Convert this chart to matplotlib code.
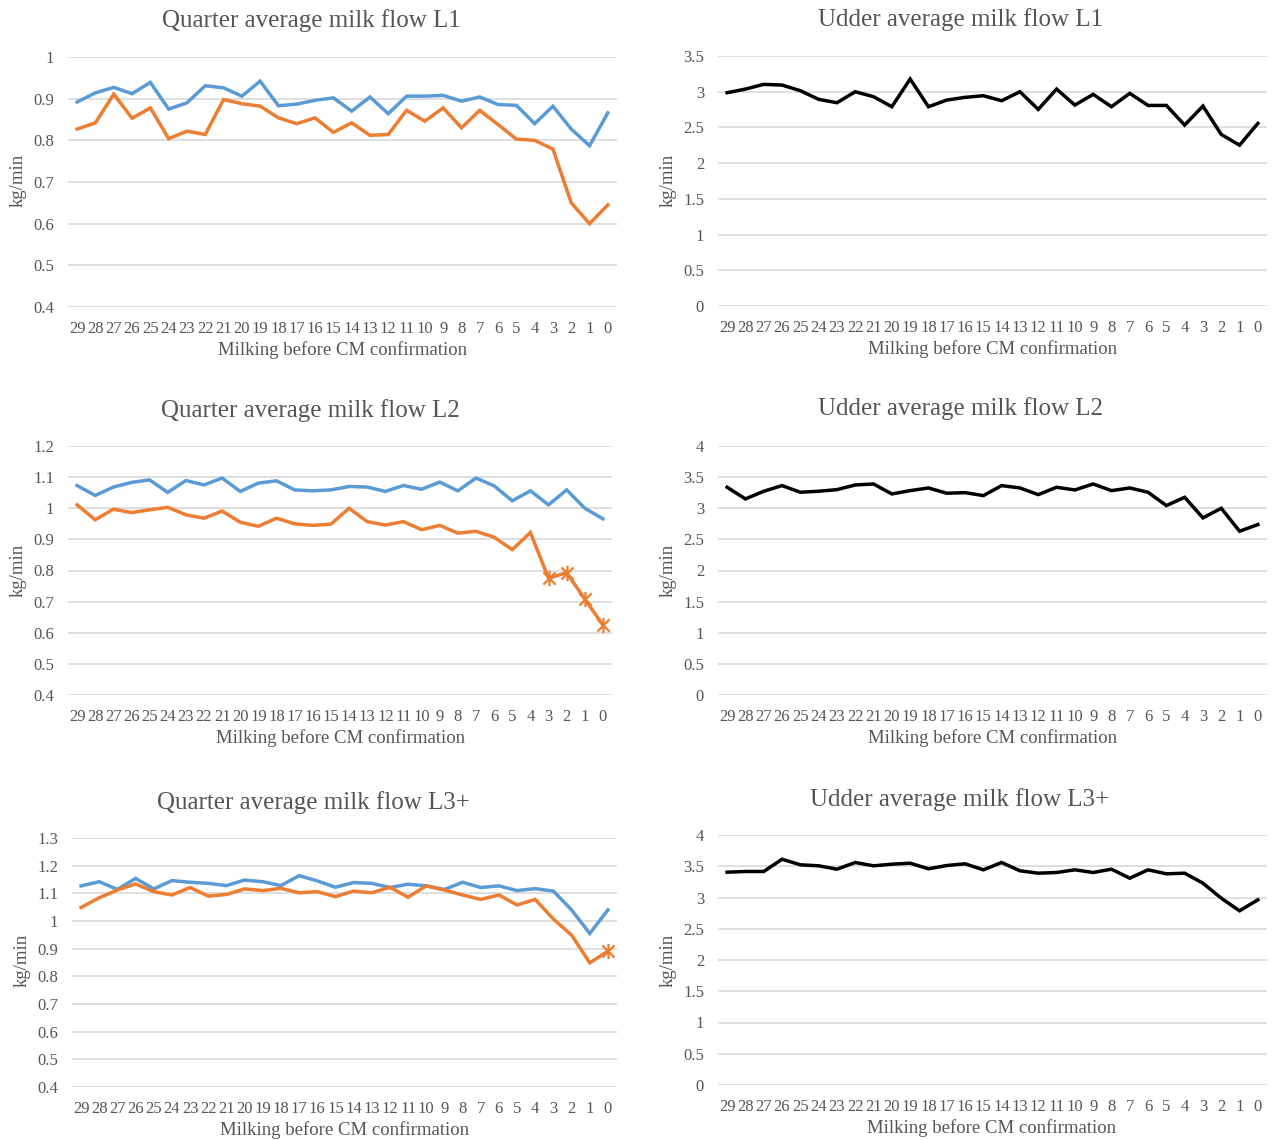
import matplotlib
matplotlib.use("Agg")
import matplotlib.pyplot as plt
from matplotlib.path import Path
import numpy as np

# ---------------- data ----------------
milking_labels = [str(v) for v in range(29, -1, -1)]

q_l1_blue = [0.892, 0.914, 0.927, 0.912, 0.939, 0.875, 0.890, 0.931, 0.926, 0.906,
             0.942, 0.883, 0.887, 0.896, 0.902, 0.870, 0.904, 0.864, 0.906, 0.906,
             0.908, 0.894, 0.904, 0.886, 0.884, 0.840, 0.882, 0.827, 0.787, 0.866]
q_l1_orange = [0.827, 0.842, 0.911, 0.853, 0.878, 0.804, 0.822, 0.814, 0.898, 0.888,
               0.882, 0.854, 0.840, 0.854, 0.819, 0.842, 0.812, 0.814, 0.872, 0.846,
               0.878, 0.830, 0.872, 0.838, 0.803, 0.800, 0.779, 0.650, 0.600, 0.645]
u_l1 = [2.986, 3.037, 3.103, 3.093, 3.014, 2.893, 2.846, 3.000, 2.930, 2.790,
        3.178, 2.790, 2.883, 2.921, 2.944, 2.874, 3.000, 2.752, 3.037, 2.813,
        2.963, 2.790, 2.977, 2.808, 2.808, 2.533, 2.799, 2.402, 2.252, 2.556]

q_l2_blue = [1.073, 1.041, 1.068, 1.083, 1.091, 1.051, 1.089, 1.075, 1.097, 1.054,
             1.081, 1.088, 1.059, 1.056, 1.059, 1.070, 1.068, 1.054, 1.073, 1.061,
             1.084, 1.056, 1.097, 1.072, 1.024, 1.056, 1.011, 1.059, 1.000, 0.966]
q_l2_orange = [1.011, 0.963, 0.997, 0.986, 0.995, 1.003, 0.979, 0.968, 0.991, 0.955,
               0.942, 0.968, 0.950, 0.945, 0.949, 1.000, 0.957, 0.946, 0.957, 0.931,
               0.945, 0.920, 0.926, 0.907, 0.867, 0.922, 0.775, 0.793, 0.708, 0.625]
q_l2_marked = [26, 27, 28, 29]
u_l2 = [3.337, 3.150, 3.273, 3.364, 3.257, 3.273, 3.299, 3.374, 3.390, 3.230,
        3.283, 3.326, 3.241, 3.251, 3.203, 3.364, 3.326, 3.219, 3.337, 3.294,
        3.390, 3.283, 3.326, 3.257, 3.043, 3.176, 2.845, 3.000, 2.631, 2.738]

q_l3_blue = [1.127, 1.142, 1.114, 1.154, 1.116, 1.146, 1.140, 1.136, 1.128, 1.148,
             1.142, 1.128, 1.164, 1.145, 1.122, 1.139, 1.136, 1.121, 1.133, 1.127,
             1.114, 1.140, 1.121, 1.127, 1.110, 1.117, 1.108, 1.040, 0.955, 1.040]
q_l3_orange = [1.049, 1.084, 1.112, 1.134, 1.106, 1.094, 1.121, 1.090, 1.096, 1.116,
               1.110, 1.118, 1.102, 1.106, 1.088, 1.108, 1.102, 1.122, 1.086, 1.127,
               1.112, 1.094, 1.078, 1.094, 1.058, 1.078, 1.007, 0.949, 0.849, 0.891]
q_l3_marked = [29]
u_l3 = [3.405, 3.416, 3.416, 3.613, 3.523, 3.507, 3.453, 3.560, 3.507, 3.533,
        3.549, 3.459, 3.512, 3.539, 3.443, 3.560, 3.427, 3.389, 3.400, 3.443,
        3.400, 3.453, 3.309, 3.443, 3.379, 3.389, 3.229, 2.989, 2.787, 2.963]

titles = ["Quarter average milk flow L1", "Udder average milk flow L1",
          "Quarter average milk flow L2", "Udder average milk flow L2",
          "Quarter average milk flow L3+", "Udder average milk flow L3+"]
x_title = "Milking before CM confirmation"
y_title = "kg/min"

# ---------------- style ----------------
W, H = 1272, 1140
fig = plt.figure(figsize=(W / 100, H / 100), dpi=100)
plt.rcParams['font.family'] = ['Liberation Serif', 'DejaVu Serif']
TXT = '#555555'
GRID = '#D9D9D9'
BLUE = '#5B9BD5'
ORANGE = '#ED7D31'

star = Path([(-1, -1), (1, 1), (-1, 1), (1, -1), (0, -1.25), (0, 1.25)],
            [Path.MOVETO, Path.LINETO, Path.MOVETO, Path.LINETO, Path.MOVETO, Path.LINETO])


def px_axes(l, t, r, b):
    return fig.add_axes([l / W, 1 - b / H, (r - l) / W, (b - t) / H])


def style(ax, ylim, yticks, yfmt):
    ax.set_xlim(-0.5, 29.5)
    ax.set_ylim(*ylim)
    ax.set_yticks(yticks)
    ax.set_yticklabels([yfmt(v) for v in yticks])
    ax.set_xticks(range(len(milking_labels)))
    ax.set_xticklabels(milking_labels)
    for s in ax.spines.values():
        s.set_visible(False)
    ax.tick_params(axis='both', length=0, colors=TXT, labelsize=12)
    ax.tick_params(axis='y', pad=10)
    ax.tick_params(axis='x', pad=10)
    ax.grid(axis='y', color=GRID, lw=1.2)
    ax.set_axisbelow(True)


def fmt(v):
    s = ('%.1f' % v)
    if s.endswith('.0'):
        s = s[:-2]
    return s


x = np.arange(len(milking_labels))
lw = 2.5

panels = [
    # (rect, ylim, yticks, series, title pos, xlabel pos, ylabel pos)
    ((68, 57, 617, 307), (0.4, 1.0), np.arange(0.4, 1.01, 0.1),
     [(q_l1_blue, BLUE, []), (q_l1_orange, ORANGE, [])], (311, 21), (343, 350), (18, 180)),
    ((718, 56, 1267, 306), (0, 3.5), np.arange(0, 3.51, 0.5),
     [(u_l1, 'black', [])], (960, 20), (993, 349), (668, 180)),
    ((68, 446, 612, 695), (0.4, 1.2), np.arange(0.4, 1.21, 0.1),
     [(q_l2_blue, BLUE, []), (q_l2_orange, ORANGE, q_l2_marked)], (310, 411), (341, 738), (18, 570)),
    ((718, 446, 1267, 695), (0, 4), np.arange(0, 4.01, 0.5),
     [(u_l2, 'black', [])], (960, 409), (993, 738), (668, 570)),
    ((72, 838, 617, 1087), (0.4, 1.3), np.arange(0.4, 1.31, 0.1),
     [(q_l3_blue, BLUE, []), (q_l3_orange, ORANGE, q_l3_marked)], (313, 803), (345, 1130), (22, 960)),
    ((718, 835, 1267, 1085), (0, 4), np.arange(0, 4.01, 0.5),
     [(u_l3, 'black', [])], (960, 800), (992, 1128), (668, 960)),
]

for i, (rect, ylim, yticks, series, tpos, xlpos, ylpos) in enumerate(panels):
    ax = px_axes(*rect)
    style(ax, ylim, yticks, fmt)
    for vals, col, marked in series:
        ax.plot(x, vals, color=col, lw=lw, solid_joinstyle='miter', zorder=3)
        if marked:
            idx = np.array(marked)
            ax.plot(x[idx], np.array(vals)[idx], ls='none', marker=star, ms=11,
                    mec=col, mew=1.6, zorder=4)
    fig.text(tpos[0] / W, 1 - tpos[1] / H, titles[i], ha='center', va='center',
             fontsize=18, color=TXT)
    fig.text(xlpos[0] / W, 1 - xlpos[1] / H, x_title, ha='center', va='center',
             fontsize=13.5, color=TXT)
    fig.text(ylpos[0] / W, 1 - ylpos[1] / H, y_title, ha='center', va='center',
             rotation=90, fontsize=13.5, color=TXT)

fig.savefig('out.png', dpi=100, facecolor='white')
